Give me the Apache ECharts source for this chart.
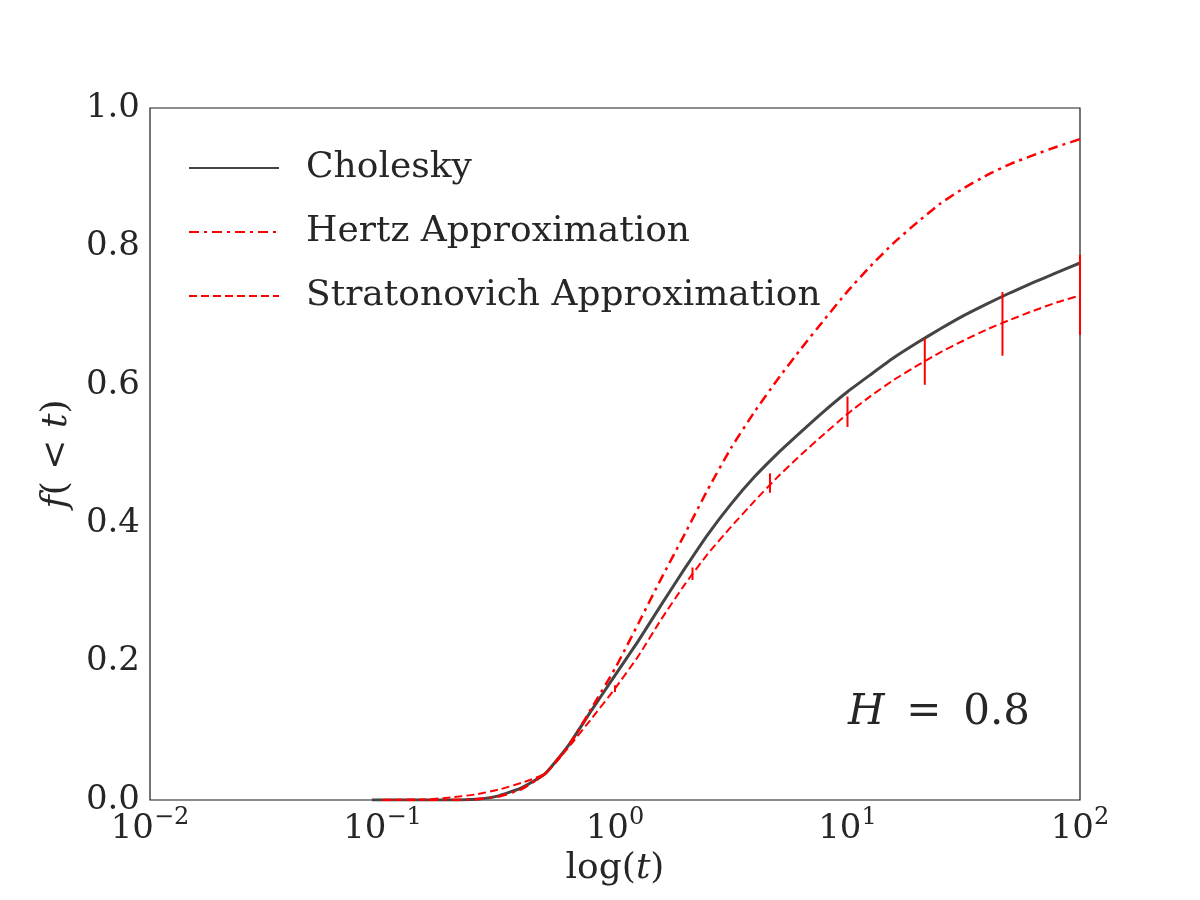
<!DOCTYPE html>
<html>
<head>
<meta charset="utf-8">
<script src="https://cdn.jsdelivr.net/npm/echarts@6/dist/echarts.min.js"></script>
<style>
  html, body { margin: 0; padding: 0; background: #fff; }
  #chart { width: 1200px; height: 900px; }
</style>
</head>
<body>
<div id="chart"></div>
<script>
// t grid (tenth-decade steps), shared by the three curves
const tGrid = [0.1, 0.126, 0.158, 0.2, 0.251, 0.316, 0.398, 0.501, 0.631, 0.794,
  1, 1.26, 1.58, 2.0, 2.51, 3.16, 3.98, 5.01, 6.31, 7.94,
  10, 12.6, 15.8, 20, 25.1, 31.6, 39.8, 50.1, 63.1, 79.4, 100]

const cholesky = [0, 0, 0, 0, 0.001, 0.006, 0.018, 0.038, 0.079, 0.13,
  0.18, 0.23, 0.282, 0.335, 0.384, 0.428, 0.467, 0.501, 0.532, 0.562,
  0.59, 0.615, 0.639, 0.661, 0.681, 0.7, 0.717, 0.733, 0.748, 0.762, 0.776]
const hertz = [0, 0, 0, 0, 0.001, 0.005, 0.016, 0.038, 0.078, 0.133,
  0.19, 0.255, 0.32, 0.385, 0.449, 0.509, 0.561, 0.608, 0.652, 0.694,
  0.735, 0.772, 0.805, 0.835, 0.862, 0.884, 0.903, 0.919, 0.932, 0.944, 0.955]
const stratonovich = [0, 0.0005, 0.001, 0.004, 0.008, 0.015, 0.025, 0.038, 0.076, 0.118,
  0.161, 0.208, 0.261, 0.312, 0.356, 0.395, 0.432, 0.467, 0.499, 0.529,
  0.558, 0.584, 0.607, 0.628, 0.647, 0.664, 0.68, 0.694, 0.707, 0.719, 0.729]

// Cholesky starts slightly earlier than the approximations
const cholStartT = 0.09

// error bars on the Stratonovich curve
const errT = [0.464, 1, 2.154, 4.64, 10, 21.5, 46.4, 100]
const errLow = [0.028, 0.156, 0.318, 0.444, 0.539, 0.600, 0.642, 0.672]
const errHigh = [0.034, 0.166, 0.336, 0.472, 0.583, 0.667, 0.734, 0.788]

const FONT = 'DejaVu Serif'
const INK = '#262626'

const pairs = (ys) => tGrid.map((t, i) => [t, ys[i]])

const chart = echarts.init(document.getElementById('chart'))

function errorBar(params, api) {
  const x = api.value(0)
  const lo = api.coord([x, api.value(1)])
  const hi = api.coord([x, api.value(2)])
  return {
    type: 'line',
    shape: { x1: lo[0], y1: lo[1], x2: hi[0], y2: hi[1] },
    style: { stroke: '#ff0000', lineWidth: 2 },
  }
}

const mathRich = {
  n: { fontFamily: FONT, fontSize: 36, color: INK },
  i: { fontFamily: FONT, fontSize: 36, color: INK, fontStyle: 'italic' },
}

chart.setOption({
  animation: false,
  backgroundColor: '#fff',
  grid: {
    left: 150, right: 120, top: 108, bottom: 100,
    show: true, borderColor: '#1a1a1a', borderWidth: 1.2, backgroundColor: 'transparent',
  },
  legend: {
    orient: 'vertical',
    left: 183,
    top: 131,
    itemWidth: 90,
    itemHeight: 16,
    itemGap: 0,
    itemStyle: { color: 'transparent', borderWidth: 0 },
    data: ['Cholesky', 'Hertz Approximation', 'Stratonovich Approximation'],
    textStyle: { fontFamily: FONT, fontSize: 36, color: INK, lineHeight: 64, padding: [0, 0, 0, 22] },
  },
  xAxis: {
    type: 'log',
    logBase: 10,
    min: 0.01,
    max: 100,
    axisLine: { show: false },
    axisTick: { show: false },
    splitLine: { show: false },
    axisLabel: {
      margin: 6,
      color: INK,
      formatter: (v) => {
        const e = Math.round(Math.log10(v))
        return '{b|10}{s|' + String(e).replace('-', '\u2212') + '}'
      },
      rich: {
        b: { fontFamily: FONT, fontSize: 34, color: INK, verticalAlign: 'bottom', lineHeight: 40 },
        s: { fontFamily: FONT, fontSize: 24, color: INK, verticalAlign: 'bottom', lineHeight: 40, padding: [0, 0, 16, 0] },
      },
    },
    name: '{n|log(}{i|t}{n|)}',
    nameLocation: 'middle',
    nameGap: 44,
    nameTextStyle: { rich: mathRich },
  },
  yAxis: {
    type: 'value',
    min: 0,
    max: 1,
    interval: 0.2,
    axisLine: { show: false },
    axisTick: { show: false },
    splitLine: { show: false },
    axisLabel: {
      margin: 10,
      fontFamily: FONT,
      fontSize: 34,
      color: INK,
      formatter: (v) => v.toFixed(1),
    },
    name: '{i|f}{n|( < }{i|t}{n|)}',
    nameLocation: 'middle',
    nameRotate: 90,
    nameGap: 66,
    nameTextStyle: { rich: mathRich },
  },
  series: [
    {
      name: 'Cholesky',
      type: 'line',
      data: [[cholStartT, 0], ...pairs(cholesky)],
      showSymbol: false,
      symbol: 'none',
      smooth: 0.15,
      lineStyle: { color: '#444444', width: 3 },
      itemStyle: { color: '#444444' },
      z: 2,
    },
    {
      name: 'Hertz Approximation',
      type: 'line',
      data: pairs(hertz),
      showSymbol: false,
      symbol: 'none',
      smooth: 0.15,
      lineStyle: { color: '#ff0000', width: 2.5, type: [10, 5, 3, 5] },
      itemStyle: { color: '#ff0000' },
      z: 3,
    },
    {
      name: 'Stratonovich Approximation',
      type: 'line',
      data: pairs(stratonovich),
      showSymbol: false,
      symbol: 'none',
      smooth: 0.15,
      lineStyle: { color: '#ff0000', width: 2, type: [8, 4] },
      itemStyle: { color: '#ff0000' },
      z: 3,
    },
    {
      name: 'errors',
      type: 'custom',
      renderItem: errorBar,
      encode: { x: 0, y: [1, 2] },
      data: errT.map((t, i) => [t, errLow[i], errHigh[i]]),
      clip: false,
      z: 4,
    },
  ],
  graphic: [
    {
      type: 'text',
      left: 848,
      top: 692,
      style: {
        text: '{i|H}{n| \u2009=\u2009 0.8}',
        rich: {
          i: { fontFamily: FONT, fontSize: 42, fontStyle: 'italic', fill: INK },
          n: { fontFamily: FONT, fontSize: 42, fill: INK },
        },
      },
    },
  ],
})
</script>
</body>
</html>
